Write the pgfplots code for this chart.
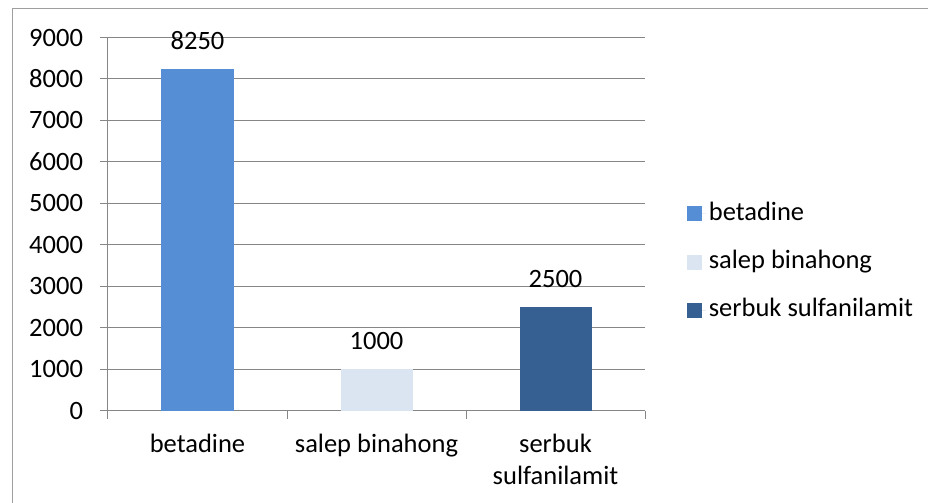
\documentclass[border=0pt]{standalone}
\usepackage{pgfplots}
\pgfplotsset{compat=1.18}
\usepackage{fontspec}
\setmainfont{Carlito}
\definecolor{cbeta}{RGB}{85,142,213}
\definecolor{csalep}{RGB}{219,229,241}
\definecolor{cserb}{RGB}{55,96,146}
\definecolor{gridc}{RGB}{134,134,134}
\begin{document}
\fontsize{26.5bp}{32bp}\selectfont
\begin{tikzpicture}
\useasboundingbox (-108bp,-92.5bp) rectangle (820bp,410.5bp);
\draw[gridc!80, line width=1.2bp] (-95.5bp,-95bp) -- (-95.5bp,402bp) -- (825bp,402bp);
\begin{axis}[
  at={(0,0)}, anchor=south west,
  scale only axis, width=537bp, height=373bp,
  xmin=-0.5, xmax=2.5, ymin=0, ymax=9000,
  ytick={0,1000,...,9000},
  xtick={-0.5,0.5,1.5,2.5},
  x tick label as interval,
  xticklabels={betadine,salep binahong,{serbuk\\sulfanilamit}},
  x tick label style={align=center, yshift=-7bp},
  y tick label style={xshift=-8bp},
  /pgf/number format/1000 sep={},
  /pgf/number format/assume math mode=true,
  scaled y ticks=false,
  ymajorgrids,
  grid style={gridc, line width=1bp},
  axis x line=bottom, axis y line=left,
  axis line style={-, gridc, line width=1bp},
  tick align=outside, major tick length=8bp,
  tick style={gridc, line width=1bp},
  ybar, bar width=72bp, bar shift=0pt,
  nodes near coords,
  nodes near coords style={anchor=south, yshift=10bp, black},
  legend style={at={(1.0782,0.398)}, anchor=west, draw=none, fill=none,
    inner sep=0pt, row sep=18bp,
    nodes={inner sep=0.1em, text height=19bp, text depth=6bp}},
  legend cell align=left,
  legend image code/.code={\fill[#1] (0bp,-7.5bp) rectangle (15bp,7.5bp); \path (0bp,0bp) -- (19bp,0bp);},
]
\addplot[fill=cbeta, draw=none] coordinates {(0,8250)};
\addplot[fill=csalep, draw=none] coordinates {(1,1000)};
\addplot[fill=cserb, draw=none] coordinates {(2,2500)};
\legend{betadine, salep binahong, serbuk sulfanilamit}
\end{axis}
\end{tikzpicture}
\end{document}
